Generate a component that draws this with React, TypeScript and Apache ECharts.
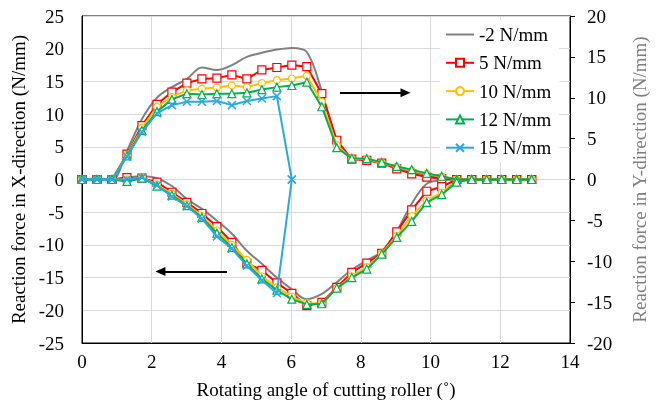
import React, { useEffect, useRef } from "react";
import * as echarts from "echarts";

// Rotating angle of cutting roller (deg)
const angles = [0, 0.43, 0.86, 1.29, 1.72, 2.15, 2.58, 3.01, 3.44, 3.87, 4.3, 4.73, 5.16, 5.59, 6.02, 6.45, 6.88, 7.31, 7.74, 8.17, 8.6, 9.03, 9.46, 9.89, 10.32, 10.75, 11.18, 11.61, 12.04, 12.47, 12.9];

const seriesNames = ["-2 N/mm", "5 N/mm", "10 N/mm", "12 N/mm", "15 N/mm"];

// Reaction force in Y-direction (right axis)
const yGray = [0, 0, 0, 3.5, 7.4, 10.0, 11.3, 12.3, 13.7, 13.4, 14.0, 15.0, 15.5, 15.9, 16.1, 15.6, 10.8, 4.7, 2.6, 2.4, 2.0, 1.5, 1.0, 0.5, 0.2, 0, 0, 0, 0, 0, 0];
const yRed = [0, 0, 0, 3.1, 6.6, 9.2, 10.7, 11.8, 12.3, 12.4, 12.8, 12.3, 13.4, 13.7, 14.0, 13.8, 10.5, 4.8, 2.5, 2.35, 2.0, 1.3, 0.7, 0.3, 0.1, 0, 0, 0, 0, 0, 0];
const yOrange = [0, 0, 0, 3.0, 6.3, 8.9, 10.1, 10.9, 11.1, 11.25, 11.5, 11.3, 11.8, 12.15, 12.35, 12.7, 9.5, 4.2, 2.55, 2.5, 2.0, 1.55, 1.1, 0.7, 0.35, 0, 0, 0, 0, 0, 0];
const yGreen = [0, 0, 0, 2.9, 6.0, 8.3, 9.8, 10.5, 10.4, 10.5, 10.5, 10.6, 11.0, 11.3, 11.5, 11.9, 8.9, 3.9, 2.6, 2.55, 2.1, 1.6, 1.2, 0.75, 0.4, 0, 0, 0, 0, 0, 0];
const yBlue = [0, 0, 0, 2.8, 5.8, 8.1, 9.1, 9.5, 9.5, 9.6, 9.1, 9.6, 9.9, 10.2, 0];

// Reaction force in X-direction (left axis)
const xGray = [0, 0, 0, 0.3, 0.5, 0.2, -1.0, -3.0, -4.5, -6.3, -8.3, -10.9, -12.9, -15.0, -16.8, -18.3, -17.5, -15.7, -13.8, -12.4, -11.0, -7.9, -3.7, -0.65, -0.1, 0, 0, 0, 0, 0, 0];
const xRed = [0, 0, 0, 0.3, 0.2, -0.4, -1.95, -3.5, -5.2, -7.2, -9.6, -12.8, -13.9, -15.8, -17.4, -19.3, -18.8, -16.5, -14.2, -12.8, -11.3, -8.0, -4.65, -1.8, -1.1, 0, 0, 0, 0, 0, 0];
const xOrange = [0, 0, 0, 0, 0.3, -0.8, -2.2, -3.8, -5.6, -7.8, -10.0, -12.3, -14.8, -16.5, -17.9, -18.9, -19.0, -16.6, -14.8, -13.4, -11.3, -8.6, -5.6, -3.2, -2.0, -0.2, 0, 0, 0, 0, 0];
const xGreen = [0, 0, 0, -0.3, 0.2, -1.0, -2.4, -4.0, -5.8, -8.2, -10.4, -12.9, -15.2, -16.9, -18.3, -19.1, -19.0, -16.6, -15.0, -13.7, -11.4, -8.85, -6.4, -3.5, -2.3, -0.4, 0, 0, 0, 0, 0];
const xBlue = [0, 0, 0, 0, 0.3, -0.9, -2.6, -4.1, -6.0, -8.7, -10.6, -13.2, -15.4, -17.4, 0];

// Arrow annotations: [startAngle, endAngle, force]
const arrowLeft = [2.25, 4.16, -14.07];
const arrowRight = [7.4, 9.28, 10.6];

const colors = ["#808080", "#ff0000", "#ffc000", "#00b050", "#29a9e1"];
const FONT = "'Liberation Serif', 'Times New Roman', serif";

const pairs = (vals: number[]) => vals.map((v, i) => [angles[i], v]);

function makeSeries(idx: number, vals: number[], yAxisIndex: number, extra: any = {}) {
  const color = colors[idx];
  const base: any = {
    name: seriesNames[idx],
    type: "line",
    yAxisIndex,
    data: pairs(vals),
    lineStyle: { color, width: 2 },
    z: 2 + idx,
  };
  if (idx === 0) {
    Object.assign(base, { symbol: "none", showSymbol: false, smooth: 0.35, itemStyle: { color } });
  } else if (idx === 1) {
    Object.assign(base, { symbol: "rect", symbolSize: 8, itemStyle: { color: "#fff", borderColor: color, borderWidth: 1.2 } });
  } else if (idx === 2) {
    Object.assign(base, { symbol: "circle", symbolSize: 7, itemStyle: { color: "#fff", borderColor: color, borderWidth: 1.2 } });
  } else if (idx === 3) {
    Object.assign(base, { symbol: "triangle", symbolSize: 8, itemStyle: { color: "#fff", borderColor: color, borderWidth: 1.2 } });
  } else {
    Object.assign(base, { symbol: "path://M0,0L10,10M10,0L0,10", symbolSize: 8, itemStyle: { color, borderColor: color, borderWidth: 1.5 } });
  }
  return Object.assign(base, extra);
}

function arrowMark(a: number[], head: "start" | "end") {
  return {
    silent: true,
    animation: false,
    symbol: head === "start" ? ["triangle", "none"] : ["none", "triangle"],
    symbolSize: [9, 10],
    label: { show: false },
    lineStyle: { color: "#000", width: 2, type: "solid" },
    emphasis: { disabled: true },
    data: [[{ coord: [a[0], a[2]] }, { coord: [a[1], a[2]] }]],
  };
}

export default function App() {
  const ref = useRef<HTMLDivElement>(null);
  useEffect(() => {
    const chart = echarts.init(ref.current!, null, { renderer: "svg" });
    const labelStyle = { color: "#000", fontFamily: FONT, fontSize: 19 };
    const option: any = {
      animation: false,
      grid: { left: 82, right: 90, top: 16, bottom: 67, show: true, borderColor: "#000", borderWidth: 1, backgroundColor: "transparent" },
      legend: {
        orient: "vertical",
        left: 440,
        top: 20,
        padding: [5, 8, 5, 5],
        backgroundColor: "#fff",
        itemWidth: 28,
        itemHeight: 10,
        itemGap: 9.3,
        z: 1,
        textStyle: { color: "#000", fontFamily: FONT, fontSize: 19 },
        data: [
          { name: seriesNames[0], itemStyle: { opacity: 0 } },
          seriesNames[1],
          seriesNames[2],
          seriesNames[3],
          seriesNames[4],
        ],
      },
      xAxis: {
        type: "value",
        min: 0,
        max: 14,
        interval: 2,
        name: "Rotating angle of cutting roller (˚)",
        nameLocation: "middle",
        nameGap: 37,
        nameTextStyle: { ...labelStyle },
        axisLine: { onZero: false, lineStyle: { color: "#000", width: 1 } },
        axisTick: { show: false },
        axisLabel: { ...labelStyle, margin: 9 },
        splitLine: { show: true, lineStyle: { color: "#d9d9d9", width: 1 } },
      },
      yAxis: [
        {
          type: "value",
          min: -25,
          max: 25,
          interval: 5,
          position: "left",
          name: "Reaction force in X-direction (N/mm)",
          nameLocation: "middle",
          nameRotate: 90,
          nameGap: 48,
          nameTextStyle: { ...labelStyle },
          axisLine: { show: true, onZero: false, lineStyle: { color: "#000", width: 1 } },
          axisTick: { show: false },
          axisLabel: { ...labelStyle, margin: 18 },
          splitLine: { show: true, lineStyle: { color: "#d9d9d9", width: 1 } },
        },
        {
          type: "value",
          min: -20,
          max: 20,
          interval: 5,
          position: "right",
          name: "Reaction force in Y-direction (N/mm)",
          nameLocation: "middle",
          nameRotate: 90,
          nameGap: 60,
          nameTextStyle: { ...labelStyle, color: "#7f7f7f" },
          axisLine: { show: true, onZero: false, lineStyle: { color: "#000", width: 1 } },
          axisTick: { show: true, inside: false, length: 5, lineStyle: { color: "#000", width: 1 } },
          axisLabel: { ...labelStyle, margin: 17 },
          splitLine: { show: false },
          z: 5,
        },
      ],
      series: [
        makeSeries(0, yGray, 1, { markLine: arrowMark(arrowRight, "end") }),
        makeSeries(0, xGray, 0, { markLine: arrowMark(arrowLeft, "start") }),
        makeSeries(1, yRed, 1),
        makeSeries(1, xRed, 0),
        makeSeries(2, yOrange, 1),
        makeSeries(2, xOrange, 0),
        makeSeries(3, yGreen, 1),
        makeSeries(3, xGreen, 0),
        makeSeries(4, yBlue, 1),
        makeSeries(4, xBlue, 0),
      ],
    };
    chart.setOption(option);
    return () => chart.dispose();
  }, []);
  return <div ref={ref} style={{ position: "fixed", left: 0, top: 0, width: 660, height: 410 }} />;
}
